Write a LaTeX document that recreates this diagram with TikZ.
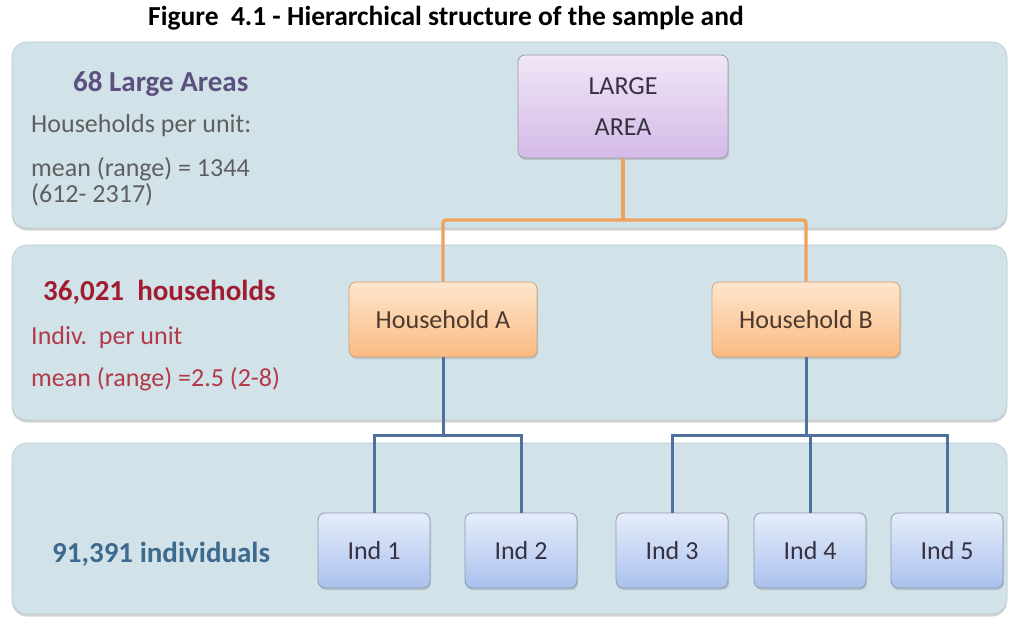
\documentclass[tikz,border=0pt]{standalone}
\usepackage{fontspec}
\setmainfont{Carlito}
\usetikzlibrary{shadows}
\definecolor{bandfill}{RGB}{209,226,233}
\definecolor{bandedge}{RGB}{185,200,208}
\definecolor{latop}{RGB}{240,230,246}
\definecolor{labot}{RGB}{212,186,232}
\definecolor{laedge}{RGB}{160,150,175}
\definecolor{hhtop}{RGB}{254,230,205}
\definecolor{hhbot}{RGB}{251,186,130}
\definecolor{hhedge}{RGB}{205,160,120}
\definecolor{intop}{RGB}{230,237,250}
\definecolor{inbot}{RGB}{170,193,238}
\definecolor{inedge}{RGB}{140,155,175}
\definecolor{orangeline}{RGB}{238,162,92}
\definecolor{blueline}{RGB}{80,112,158}
\definecolor{purpletxt}{RGB}{92,80,126}
\definecolor{graytxt}{RGB}{95,95,95}
\definecolor{redhead}{RGB}{160,28,48}
\definecolor{redtxt}{RGB}{178,58,72}
\definecolor{bluetxt}{RGB}{62,106,143}
\definecolor{boxtxt}{RGB}{55,50,65}
\definecolor{hhtxt}{RGB}{75,58,45}
\tikzset{
  band/.style={draw=bandedge, line width=0.6pt, fill=bandfill, rounded corners=15pt,
    minimum width=995pt, inner sep=0pt,
    drop shadow={shadow xshift=0pt, shadow yshift=-2.5pt, opacity=0.35, fill=gray}},
  boxbase/.style={rounded corners=7pt, line width=0.8pt, inner sep=0pt,
    font=\fontsize{26}{41}\selectfont, align=center,
    drop shadow={shadow xshift=1pt, shadow yshift=-2pt, opacity=0.3, fill=gray}},
  labox/.style={boxbase, draw=laedge, top color=latop, bottom color=labot, text=boxtxt,
    minimum width=210pt, minimum height=103pt},
  hhbox/.style={boxbase, draw=hhedge, top color=hhtop, bottom color=hhbot, text=hhtxt,
    minimum width=188pt, minimum height=75pt},
  indbox/.style={boxbase, draw=inedge, top color=intop, bottom color=inbot, text=boxtxt,
    minimum width=112pt, minimum height=75pt},
  orangeconn/.style={draw=orangeline, line width=3.4pt, rounded corners=3pt},
  blueconn/.style={draw=blueline, line width=3pt},
  headtxt/.style={anchor=base west, inner sep=0pt, font=\fontsize{29}{29}\selectfont\bfseries},
  subtxt/.style={anchor=base west, inner sep=0pt, font=\fontsize{26}{26}\selectfont},
}
\begin{document}
\begin{tikzpicture}[x=1pt,y=-1pt]
\useasboundingbox[fill=white] (0,0) rectangle (1019,618);

% title
\node[inner sep=0pt, font=\fontsize{27.5}{27.5}\selectfont\bfseries] (title) at (446,18)
  {Figure~~4.1 - Hierarchical structure of the sample and};

% bands
\node[band, minimum height=186pt] (band1) at (509.5,135) {};
\node[band, minimum height=175pt] (band2) at (509.5,332.5) {};
\node[band, minimum height=171pt] (band3) at (509.5,528.5) {};

% left texts
\node[headtxt, text=purpletxt] (t1) at (73,91) {68 Large Areas};
\node[subtxt, text=graytxt] (t2) at (31,132) {Households per unit:};
\node[subtxt, text=graytxt] (t3) at (31,176) {mean (range) = 1344};
\node[subtxt, text=graytxt] (t4) at (31,202) {(612- 2317)};

\node[headtxt, text=redhead] (t5) at (43,300) {36,021~~households};
\node[subtxt, text=redtxt] (t6) at (31,344) {Indiv.~~per unit};
\node[subtxt, text=redtxt] (t7) at (31,386) {mean (range) =2.5 (2-8)};

\node[headtxt, text=bluetxt] (t8) at (52,562) {91,391 individuals};

% boxes
\node[labox] (LA) at (623,106.5) {LARGE\\AREA};
\node[hhbox] (HA) at (443,319.5) {Household A};
\node[hhbox] (HB) at (806,319.5) {Household B};
\node[indbox] (I1) at (374,550.5) {Ind 1};
\node[indbox] (I2) at (521,550.5) {Ind 2};
\node[indbox] (I3) at (672,550.5) {Ind 3};
\node[indbox] (I4) at (810,550.5) {Ind 4};
\node[indbox] (I5) at (947,550.5) {Ind 5};

% connectors
\coordinate (obus) at (623,220);
\coordinate (bA) at (443,435);
\coordinate (bB) at (806,435);
\draw[orangeconn] (LA.south) -- (obus);
\draw[orangeconn] (HA.north) |- (obus);
\draw[orangeconn] (HB.north) |- (obus);
\draw[blueconn] (HA.south) -- (bA);
\draw[blueconn] (I1.north) |- (bA);
\draw[blueconn] (I2.north) |- (bA);
\draw[blueconn] (HB.south) -- (bB);
\draw[blueconn] (I3.north) |- (bB);
\draw[blueconn] (I4.north) |- (bB);
\draw[blueconn] (I5.north) |- (bB);
\end{tikzpicture}
\end{document}
